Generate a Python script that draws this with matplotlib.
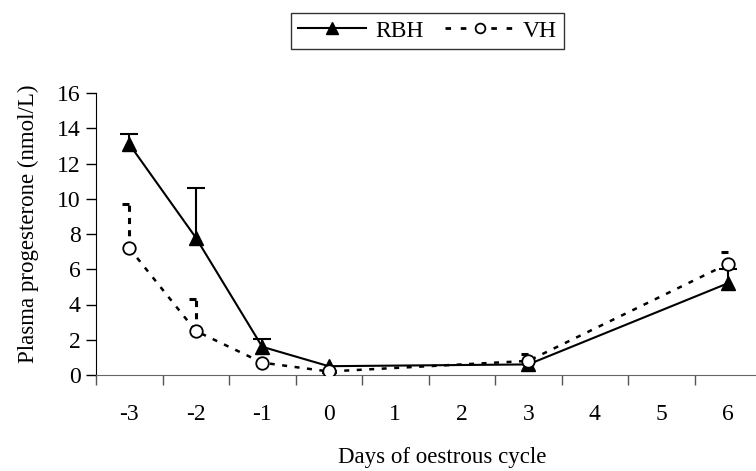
import matplotlib
matplotlib.use("Agg")
import matplotlib.pyplot as plt
from matplotlib.lines import Line2D
import numpy as np

plt.rcParams['font.family'] = ['Liberation Serif', 'DejaVu Serif']

categories = ["-3", "-2", "-1", "0", "1", "2", "3", "4", "5", "6"]
days = ["-3", "-2", "-1", "0", "3", "6"]
rbh = [13.1, 7.8, 1.6, 0.5, 0.6, 5.2]
rbh_err = [0.6, 2.8, 0.45, 0.0, 0.0, 0.8]
vh = [7.2, 2.5, 0.7, 0.2, 0.8, 6.3]
vh_err = [2.5, 1.8, 0.0, 0.0, 0.4, 0.7]

fig = plt.figure(figsize=(7.56, 4.71), dpi=100)
ax = fig.add_axes([96/756, 96/471, 665/756, 282/471])

xpos = np.array([categories.index(d) for d in days])
rbh = np.array(rbh); rbh_err = np.array(rbh_err)
vh = np.array(vh); vh_err = np.array(vh_err)

vh_dash = (0, (2, 3))

# RBH error bars (upper only) with full caps
m = rbh_err > 0
ax.vlines(xpos[m], rbh[m], rbh[m] + rbh_err[m], color='black', lw=1.5, zorder=2)
ax.plot(xpos[m], rbh[m] + rbh_err[m], ls='none', marker='_', ms=13, mew=1.5, color='black', zorder=2)
# VH error bars (upper only, dashed) with half caps
m = vh_err > 0
ax.vlines(xpos[m], vh[m], vh[m] + vh_err[m], color='black', lw=2.2, linestyles=[(0, (2, 2))], zorder=2)
ax.plot(xpos[m], vh[m] + vh_err[m], ls='none', marker=[(-1, 0), (0, 0)], ms=10, mew=2.2,
        color='black', zorder=2)

# lines
ax.plot(xpos, rbh, color='black', lw=1.5, marker='^', ms=10, zorder=3)
ax.plot(xpos, vh, color='black', lw=1.8, ls=vh_dash, marker='o', ms=9,
        mfc='white', mec='black', mew=1.3, zorder=4)

ax.set_xlim(-0.5, len(categories) - 0.5)
ax.set_ylim(0, 16)
ax.set_yticks(np.arange(0, 17, 2))
ax.set_xticks(range(len(categories)))
ax.set_xticklabels(categories)
ax.set_xticks(np.arange(-0.5, len(categories) - 0.5, 1), minor=True)
ax.tick_params(axis='x', which='major', length=0, labelsize=17, pad=21)
ax.tick_params(axis='x', which='minor', length=7, width=1, color='#555555')
ax.tick_params(axis='y', labelsize=17, length=7, width=1, direction='out', pad=4)

for s in ['top', 'right']:
    ax.spines[s].set_visible(False)
ax.spines['bottom'].set_color('#666666')
ax.spines['left'].set_color('black')

ax.set_ylabel('Plasma progesterone (nmol/L)', fontsize=16.5)
ax.yaxis.set_label_coords(-0.086, 0.535)
ax.set_xlabel('Days of oestrous cycle', fontsize=16.5)
ax.xaxis.set_label_coords(0.52, -0.257)

handles = [Line2D([], [], color='black', lw=1.5, marker='^', ms=8),
           Line2D([], [], color='black', lw=2, ls=(0, (2, 3.5)), marker='o', ms=7,
                  mfc='white', mew=1.3)]
leg = ax.legend(handles, ['RBH', 'VH'], loc='center', bbox_to_anchor=(0.4985, 1.22), ncol=2,
                frameon=True, fancybox=False, edgecolor='black', fontsize=17,
                handlelength=2.9, columnspacing=0.9, handletextpad=0.4, borderpad=0.3)
leg.get_frame().set_linewidth(1.0)

fig.savefig('out.png', dpi=100)
